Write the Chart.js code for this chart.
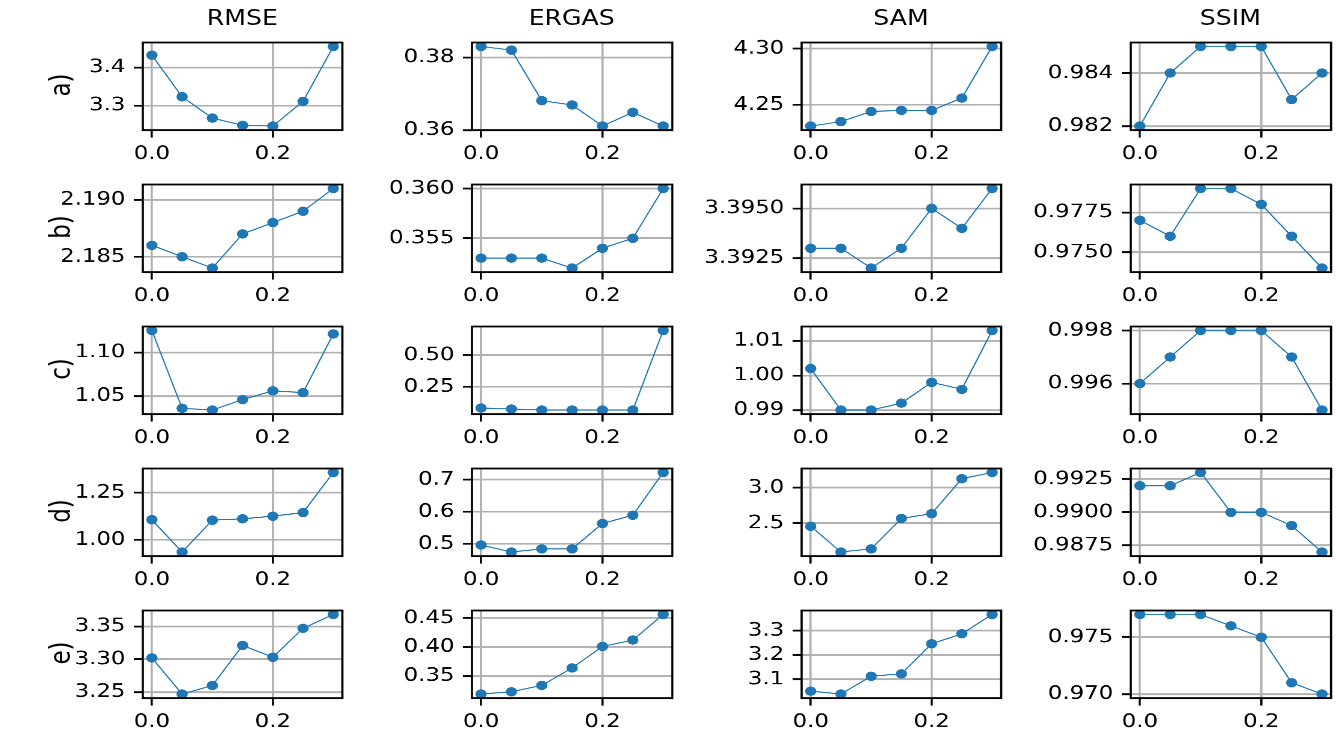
<!DOCTYPE html>
<html>
<head>
<meta charset="utf-8">
<script src="https://cdn.jsdelivr.net/npm/chart.js@4.4.1/dist/chart.umd.min.js"></script>
<style>
  html, body { margin: 0; padding: 0; background: #fff; width: 1338px; height: 732px; overflow: hidden; }
  #fig { position: absolute; left: 0; top: 0; width: 1115px; height: 732px; transform: scaleX(1.2); transform-origin: 0 0; }
  .panel { position: absolute; }
  .title { position: absolute; font-family: 'DejaVu Sans'; font-size: 21px; line-height: 21px; color: #000; transform: translateX(-50%); white-space: nowrap; }
  .rowlab { position: absolute; font-family: 'DejaVu Sans'; font-size: 23px; line-height: 23px; color: #000; transform: translate(-50%, -50%) rotate(-90deg); white-space: nowrap; }
</style>
</head>
<body>
<div id="fig"></div>
<script>
// Shared x positions (noise level) and x tick labels
const xValues = [0, 0.05, 0.1, 0.15, 0.2, 0.25, 0.3];
const xTickLabels = ['0.0', '0.2'];
const metrics = ['RMSE', 'ERGAS', 'SAM', 'SSIM'];
const rowLabels = ['a)', 'b)', 'c)', 'd)', 'e)'];

// Row a
const rmseA  = [3.432, 3.323, 3.267, 3.248, 3.246, 3.311, 3.455];
const ergasA = [0.3830, 0.3820, 0.3681, 0.3669, 0.3611, 0.3649, 0.3611];
const samA   = [4.231, 4.235, 4.244, 4.245, 4.245, 4.256, 4.302];
const ssimA  = [0.982, 0.984, 0.985, 0.985, 0.985, 0.983, 0.984];
const rmseATicks  = ['3.3', '3.4'];
const ergasATicks = ['0.36', '0.38'];
const samATicks   = ['4.25', '4.30'];
const ssimATicks  = ['0.982', '0.984'];

// Row b
const rmseB  = [2.186, 2.185, 2.184, 2.187, 2.188, 2.189, 2.191];
const ergasB = [0.353, 0.353, 0.353, 0.352, 0.354, 0.355, 0.360];
const samB   = [3.393, 3.393, 3.392, 3.393, 3.395, 3.394, 3.396];
const ssimB  = [0.977, 0.976, 0.979, 0.979, 0.978, 0.976, 0.974];
const rmseBTicks  = ['2.185', '2.190'];
const ergasBTicks = ['0.355', '0.360'];
const samBTicks   = ['3.3925', '3.3950'];
const ssimBTicks  = ['0.9750', '0.9775'];

// Row c
const rmseC  = [1.125, 1.036, 1.034, 1.046, 1.056, 1.054, 1.121];
const ergasC = [0.083, 0.075, 0.067, 0.067, 0.067, 0.067, 0.696];
const samC   = [1.002, 0.990, 0.990, 0.992, 0.998, 0.996, 1.013];
const ssimC  = [0.996, 0.997, 0.998, 0.998, 0.998, 0.997, 0.995];
const rmseCTicks  = ['1.05', '1.10'];
const ergasCTicks = ['0.25', '0.50'];
const samCTicks   = ['0.99', '1.00', '1.01'];
const ssimCTicks  = ['0.996', '0.998'];

// Row d
const rmseD  = [1.106, 0.935, 1.104, 1.111, 1.125, 1.144, 1.356];
const ergasD = [0.496, 0.474, 0.484, 0.484, 0.563, 0.589, 0.722];
const samD   = [2.459, 2.096, 2.141, 2.568, 2.636, 3.127, 3.214];
const ssimD  = [0.992, 0.992, 0.993, 0.990, 0.990, 0.989, 0.987];
const rmseDTicks  = ['1.00', '1.25'];
const ergasDTicks = ['0.5', '0.6', '0.7'];
const samDTicks   = ['2.5', '3.0'];
const ssimDTicks  = ['0.9875', '0.9900', '0.9925'];

// Row e
const rmseE  = [3.302, 3.247, 3.260, 3.321, 3.303, 3.347, 3.368];
const ergasE = [0.319, 0.323, 0.334, 0.364, 0.401, 0.412, 0.456];
const samE   = [3.052, 3.040, 3.113, 3.123, 3.246, 3.287, 3.366];
const ssimE  = [0.977, 0.977, 0.977, 0.976, 0.975, 0.971, 0.970];
const rmseETicks  = ['3.25', '3.30', '3.35'];
const ergasETicks = ['0.35', '0.40', '0.45'];
const samETicks   = ['3.1', '3.2', '3.3'];
const ssimETicks  = ['0.970', '0.975'];

const seriesGrid = [
  [rmseA, ergasA, samA, ssimA],
  [rmseB, ergasB, samB, ssimB],
  [rmseC, ergasC, samC, ssimC],
  [rmseD, ergasD, samD, ssimD],
  [rmseE, ergasE, samE, ssimE]
];
const tickGrid = [
  [rmseATicks, ergasATicks, samATicks, ssimATicks],
  [rmseBTicks, ergasBTicks, samBTicks, ssimBTicks],
  [rmseCTicks, ergasCTicks, samCTicks, ssimCTicks],
  [rmseDTicks, ergasDTicks, samDTicks, ssimDTicks],
  [rmseETicks, ergasETicks, samETicks, ssimETicks]
];

// Figure geometry (page pixels; the figure div is stretched horizontally by SX)
const SX = 1.2;
const colLeft = [142.7, 472.0, 801.3, 1130.7];
const rowTop = [40, 182.1, 324.2, 466.3, 608.3];
const boxW = 199.5 / SX;
const boxH = 89.7;
const PADL = 80, PADT = 16, PADR = 16, PADB = 44;
const BLUE = '#1f77b4';
const FONT = 'DejaVu Sans';

const fig = document.getElementById('fig');

// Axes frame on all four sides
const framePlugin = {
  id: 'frame',
  afterDatasetsDraw(chart) {
    const a = chart.chartArea, ctx = chart.ctx;
    ctx.save();
    ctx.strokeStyle = '#000';
    ctx.lineWidth = 1.8;
    ctx.strokeRect(a.left, a.top, a.right - a.left, a.bottom - a.top);
    ctx.restore();
  }
};

function margins(vals) {
  const lo = Math.min(...vals), hi = Math.max(...vals);
  const pad = (hi - lo) * 0.05;
  return [lo - pad, hi + pad];
}

metrics.forEach((m, c) => {
  const t = document.createElement('div');
  t.className = 'title';
  t.textContent = m;
  t.style.left = ((colLeft[c] + 199.5 / 2) / SX) + 'px';
  t.style.top = '8px';
  fig.appendChild(t);
});

rowLabels.forEach((lab, r) => {
  const d = document.createElement('div');
  d.className = 'rowlab';
  d.textContent = lab;
  d.style.left = (61 / SX) + 'px';
  d.style.top = (rowTop[r] + boxH / 2) + 'px';
  fig.appendChild(d);
});

seriesGrid.forEach((row, r) => {
  row.forEach((vals, c) => {
    const ticks = tickGrid[r][c];
    const [ymin, ymax] = margins(vals);
    const holder = document.createElement('div');
    holder.className = 'panel';
    const w = PADL + boxW + PADR, h = PADT + boxH + PADB;
    holder.style.left = (colLeft[c] / SX - PADL) + 'px';
    holder.style.top = (rowTop[r] - PADT) + 'px';
    holder.style.width = w + 'px';
    holder.style.height = h + 'px';
    const cv = document.createElement('canvas');
    holder.appendChild(cv);
    fig.appendChild(holder);

    new Chart(cv, {
      type: 'line',
      data: {
        datasets: [{
          data: xValues.map((x, i) => ({ x: x, y: vals[i] })),
          borderColor: BLUE,
          backgroundColor: BLUE,
          borderWidth: 1.1,
          pointRadius: 4.7,
          pointHoverRadius: 4.7,
          pointBorderWidth: 0,
          pointBackgroundColor: BLUE,
          tension: 0,
          clip: 3
        }]
      },
      options: {
        responsive: true,
        maintainAspectRatio: false,
        animation: false,
        devicePixelRatio: 2,
        events: [],
        layout: { padding: { left: 0, top: PADT, right: PADR, bottom: 0 } },
        plugins: { legend: { display: false }, tooltip: { enabled: false }, title: { display: false } },
        scales: {
          x: {
            type: 'linear',
            min: -0.015,
            max: 0.315,
            afterFit(s) { s.height = PADB; },
            afterBuildTicks(s) { s.ticks = xTickLabels.map(l => ({ value: parseFloat(l) })); },
            ticks: {
              callback: (v, i) => xTickLabels[i],
              font: { family: FONT, size: 19 },
              color: '#000',
              padding: 5,
              maxRotation: 0,
              autoSkip: false
            },
            grid: { color: '#b0b0b0', lineWidth: 1.8, tickColor: '#000', tickLength: 7.5, tickWidth: 1.8 },
            border: { display: false }
          },
          y: {
            type: 'linear',
            min: ymin,
            max: ymax,
            afterFit(s) { s.width = PADL; },
            afterBuildTicks(s) { s.ticks = ticks.map(l => ({ value: parseFloat(l) })); },
            ticks: {
              callback: (v, i) => ticks[i],
              font: { family: FONT, size: 19 },
              color: '#000',
              padding: 7,
              autoSkip: false
            },
            grid: { color: '#b0b0b0', lineWidth: 1.8, tickColor: '#000', tickLength: 7.5, tickWidth: 1.8 },
            border: { display: false }
          }
        }
      },
      plugins: [framePlugin]
    });
  });
});
</script>
</body>
</html>
